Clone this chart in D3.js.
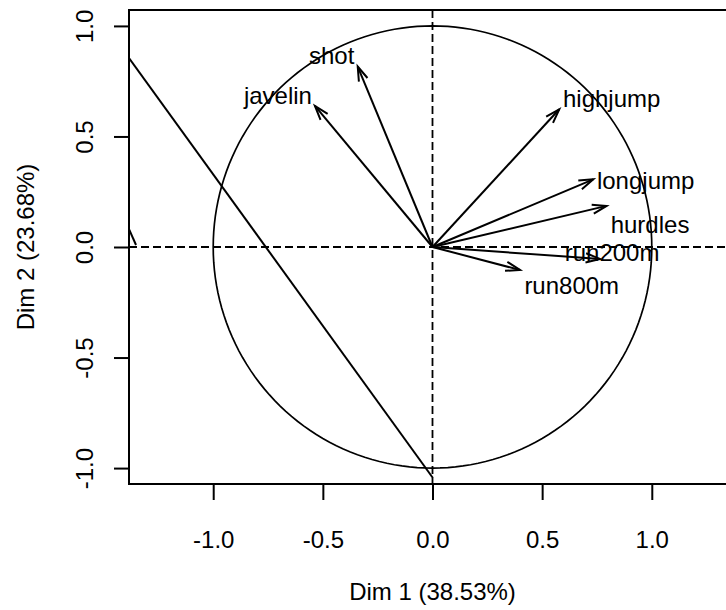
<!DOCTYPE html>
<html><head><meta charset="utf-8">
<script src="https://cdn.jsdelivr.net/npm/d3@7"></script>
<style>
html,body{margin:0;padding:0;background:#fff;}
svg{display:block;}
text{font-family:"Liberation Sans",Arial,sans-serif;fill:#000;}
</style></head>
<body>
<script>
// ---- data (PCA variables factor map) ----
const variables = ["shot","javelin","highjump","longjump","hurdles","run200m","run800m"];
const dim1 = [-0.341,-0.536,0.578,0.733,0.794,0.764,0.399];
const dim2 = [0.816,0.638,0.623,0.306,0.186,-0.054,-0.104];
// label anchor positions (data units)
const labelDim1 = [-0.460,-0.705,0.817,0.972,0.992,0.819,0.635];
const labelDim2 = [0.869,0.688,0.673,0.303,0.104,-0.023,-0.172];
// extra line segments present in the figure (data units)
const segX1 = [-1.384,-1.384];
const segY1 = [0.855,0.081];
const segX2 = [0.002,-1.352];
const segY2 = [-1.045,0.009];
const tickValues = [-1.0,-0.5,0.0,0.5,1.0];
const tickLabels = ["-1.0","-0.5","0.0","0.5","1.0"];
const xTitle = "Dim 1 (38.53%)";
const yTitle = "Dim 2 (23.68%)";

(function(){
const W = 726, H = 610;
const mLeft = 129, mRight = 736, mTop = 10, mBottom = 484;
const x = d3.scaleLinear().domain([-1.384,1.384]).range([mLeft,mRight]);
const y = d3.scaleLinear().domain([-1.072,1.072]).range([mBottom,mTop]);

const svg = d3.select("body").append("svg").attr("width",W).attr("height",H);
svg.append("defs").append("clipPath").attr("id","clip")
  .append("rect").attr("x",mLeft).attr("y",mTop).attr("width",mRight-mLeft).attr("height",mBottom-mTop);

const plot = svg.append("g").attr("clip-path","url(#clip)");

// dashed zero lines
plot.append("line").attr("x1",mLeft).attr("x2",mRight).attr("y1",y(0)).attr("y2",y(0))
  .attr("stroke","#000").attr("stroke-width",1.8).attr("stroke-dasharray","8,4");
plot.append("line").attr("x1",x(0)).attr("x2",x(0)).attr("y1",mTop).attr("y2",mBottom)
  .attr("stroke","#000").attr("stroke-width",1.8).attr("stroke-dasharray","8,4");

// unit circle
const circ = d3.range(0,361,2).map(a=>[Math.cos(a*Math.PI/180),Math.sin(a*Math.PI/180)]);
plot.append("path").attr("d",d3.line().x(d=>x(d[0])).y(d=>y(d[1]))(circ))
  .attr("fill","none").attr("stroke","#000").attr("stroke-width",1.7);

// extra segments
segX1.forEach((v,i)=>{
  plot.append("line").attr("x1",x(segX1[i])).attr("y1",y(segY1[i]))
    .attr("x2",x(segX2[i])).attr("y2",y(segY2[i]))
    .attr("stroke","#000").attr("stroke-width",2);
});

// arrows
const headLen = 15, headAng = 18*Math.PI/180;
variables.forEach((v,i)=>{
  const x0 = x(0), y0 = y(0), x1 = x(dim1[i]), y1 = y(dim2[i]);
  plot.append("line").attr("x1",x0).attr("y1",y0).attr("x2",x1).attr("y2",y1)
    .attr("stroke","#000").attr("stroke-width",2);
  const ang = Math.atan2(y1-y0,x1-x0);
  const p = d3.path();
  p.moveTo(x1-headLen*Math.cos(ang-headAng), y1-headLen*Math.sin(ang-headAng));
  p.lineTo(x1,y1);
  p.lineTo(x1-headLen*Math.cos(ang+headAng), y1-headLen*Math.sin(ang+headAng));
  plot.append("path").attr("d",p.toString()).attr("fill","none")
    .attr("stroke","#000").attr("stroke-width",2);
});

// labels
variables.forEach((v,i)=>{
  svg.append("text").attr("x",x(labelDim1[i])).attr("y",y(labelDim2[i]))
    .attr("text-anchor","middle").attr("dy","0.36em")
    .style("font-size","24px").text(v);
});

// box
svg.append("rect").attr("x",mLeft).attr("y",mTop).attr("width",mRight-mLeft).attr("height",mBottom-mTop)
  .attr("fill","none").attr("stroke","#000").attr("stroke-width",2);

// axes
const fmt = d => tickLabels[tickValues.indexOf(d)];
const xa = svg.append("g").attr("transform",`translate(0,${mBottom})`)
  .call(d3.axisBottom(x).tickValues(tickValues).tickFormat(fmt).tickSize(16).tickPadding(31));
xa.select(".domain").remove();
xa.selectAll("line").attr("stroke","#000").attr("stroke-width",2);
xa.selectAll("text").style("font-size","24px").attr("font-family",null);

const ya = svg.append("g").attr("transform",`translate(${mLeft},0)`)
  .call(d3.axisLeft(y).tickValues(tickValues).tickFormat(fmt).tickSize(15));
ya.select(".domain").remove();
ya.selectAll("line").attr("stroke","#000").attr("stroke-width",2);
ya.selectAll("text").style("font-size","24px").attr("font-family",null)
  .attr("x",0).attr("dy",0).attr("text-anchor","middle")
  .attr("transform","translate(-36,0) rotate(-90)");

// titles
svg.append("text").attr("x",(mLeft+mRight)/2).attr("y",600).attr("text-anchor","middle")
  .style("font-size","24px").text(xTitle);
svg.append("text").attr("transform",`translate(34,${(mTop+mBottom)/2}) rotate(-90)`)
  .attr("text-anchor","middle").style("font-size","24px").text(yTitle);
})();
</script>
</body></html>
